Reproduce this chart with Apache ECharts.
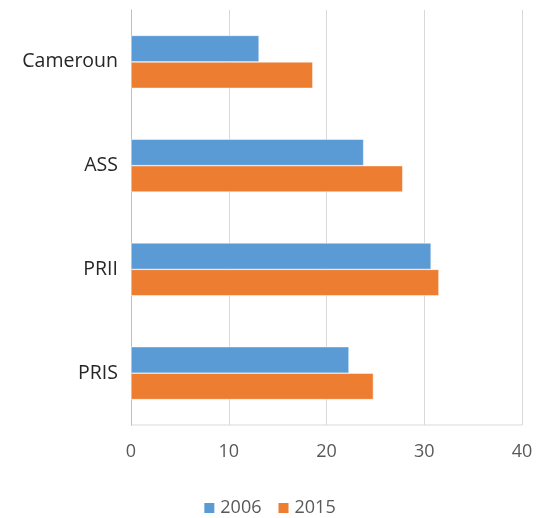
<!DOCTYPE html>
<html lang="fr" style="height: 100%">
<head>
    <meta charset="UTF-8">
</head>
<body style="height: 100%; margin: 0; background: #fff">
  <div id="container" style="width: 538px; height: 518px"></div>
  <script type="text/javascript" src="https://fastly.jsdelivr.net/npm/echarts@6/dist/echarts.min.js"></script>
  <script type="text/javascript">
    var categories = ['Cameroun', 'ASS', 'PRII', 'PRIS'];
    var seriesNames = ['2006', '2015'];
    var values2006 = [13.1, 23.8, 30.7, 22.3];
    var values2015 = [18.6, 27.8, 31.5, 24.8];

    var dom = document.getElementById('container');
    var myChart = echarts.init(dom, null, { renderer: 'canvas' });
    var font = 'Open Sans';
    var option = {
      animation: false,
      color: ['#5B9BD5', '#ED7D31'],
      grid: { left: 131, right: 16, top: 10, bottom: 93 },
      legend: {
        data: seriesNames,
        top: 494,
        left: 'center',
        itemWidth: 12,
        itemHeight: 12,
        itemGap: 15,
        icon: 'rect',
        textStyle: { fontFamily: font, fontSize: 18, color: '#595959', padding: [0, 0, 0, 0] }
      },
      xAxis: {
        type: 'value',
        min: 0,
        max: 40,
        interval: 10,
        axisLine: { show: false },
        axisTick: { show: false },
        splitLine: { lineStyle: { color: '#d9d9d9', width: 1 } },
        axisLabel: { fontFamily: font, fontSize: 18, color: '#595959', margin: 18 }
      },
      yAxis: {
        type: 'category',
        data: categories,
        inverse: true,
        axisLine: { show: true, lineStyle: { color: '#bfbfbf' } },
        axisTick: { show: false },
        axisLabel: { fontFamily: font, fontSize: 19.5, color: '#262626', margin: 13 }
      },
      series: [
        {
          name: seriesNames[0],
          type: 'bar',
          data: values2006,
          barGap: '0%',
          barCategoryGap: '49%',
          itemStyle: { borderColor: '#fff', borderWidth: 0.5 }
        },
        {
          name: seriesNames[1],
          type: 'bar',
          data: values2015,
          barGap: '0%',
          barCategoryGap: '49%',
          itemStyle: { borderColor: '#fff', borderWidth: 0.5 }
        }
      ]
    };
    myChart.setOption(option);
    // bottom border of the plot area
    myChart.setOption({
      graphic: [{
        type: 'line',
        shape: { x1: 131, y1: 425, x2: 522, y2: 425 },
        style: { stroke: '#d9d9d9', lineWidth: 1 }
      }]
    });
    window.addEventListener('resize', myChart.resize);
  </script>
</body>
</html>
